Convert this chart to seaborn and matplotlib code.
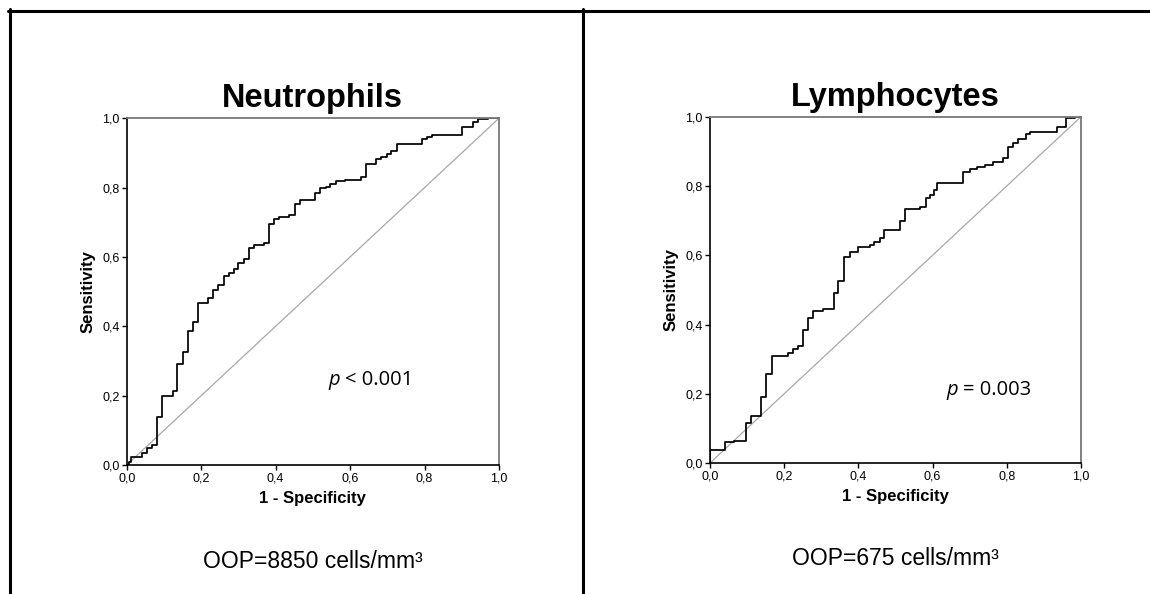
import numpy as np
import pandas as pd
import matplotlib
matplotlib.use("Agg")
import matplotlib.pyplot as plt
import seaborn as sns
from matplotlib.lines import Line2D
from matplotlib.ticker import FuncFormatter

# ROC points (1 - specificity, sensitivity)
neut_fpr = [0.0, 0.005, 0.012, 0.040, 0.054, 0.067, 0.081, 0.094, 0.123, 0.136, 0.151,
            0.164, 0.178, 0.191, 0.218, 0.231, 0.246, 0.260, 0.274, 0.287, 0.300,
            0.314, 0.328, 0.341, 0.370, 0.383, 0.396, 0.410, 0.437, 0.452, 0.465,
            0.507, 0.520, 0.534, 0.547, 0.561, 0.587, 0.628, 0.643, 0.670, 0.683,
            0.698, 0.711, 0.725, 0.794, 0.807, 0.821, 0.901, 0.930, 0.943, 0.970, 1.0]
neut_tpr = [0.0, 0.010, 0.024, 0.034, 0.048, 0.058, 0.138, 0.199, 0.212, 0.291, 0.327,
            0.385, 0.412, 0.468, 0.481, 0.505, 0.518, 0.545, 0.553, 0.564, 0.584,
            0.593, 0.625, 0.635, 0.639, 0.695, 0.709, 0.714, 0.721, 0.752, 0.764,
            0.784, 0.798, 0.801, 0.811, 0.819, 0.822, 0.832, 0.868, 0.882, 0.889,
            0.897, 0.907, 0.926, 0.939, 0.945, 0.953, 0.976, 0.990, 0.997, 1.0, 1.0]

lymph_fpr = [0.0, 0.0, 0.041, 0.066, 0.097, 0.111, 0.138, 0.151, 0.166, 0.196, 0.210,
             0.223, 0.237, 0.250, 0.264, 0.277, 0.304, 0.333, 0.346, 0.360, 0.376,
             0.400, 0.430, 0.443, 0.457, 0.470, 0.511, 0.526, 0.565, 0.583, 0.594,
             0.605, 0.612, 0.666, 0.682, 0.700, 0.720, 0.740, 0.763, 0.790, 0.803,
             0.817, 0.830, 0.853, 0.862, 0.934, 0.959, 0.983, 1.0]
lymph_tpr = [0.0, 0.037, 0.060, 0.064, 0.117, 0.137, 0.190, 0.258, 0.308, 0.308, 0.319,
             0.329, 0.339, 0.383, 0.418, 0.439, 0.444, 0.492, 0.527, 0.596, 0.608,
             0.625, 0.630, 0.637, 0.649, 0.673, 0.699, 0.733, 0.740, 0.764, 0.774,
             0.788, 0.810, 0.810, 0.841, 0.848, 0.855, 0.862, 0.870, 0.880, 0.913,
             0.923, 0.935, 0.950, 0.957, 0.969, 0.995, 1.0, 1.0]

titles = ["Neutrophils", "Lymphocytes"]
p_values = ["< 0.001", "= 0.003"]
p_pos = [(0.541, 0.245), (0.636, 0.211)]
oop_labels = ["OOP=8850 cells/mm\u00b3", "OOP=675 cells/mm\u00b3"]
ticks = [0.0, 0.2, 0.4, 0.6, 0.8, 1.0]

sns.set_style("white")
plt.rcParams["font.family"] = ["Liberation Sans", "DejaVu Sans"]
plt.rcParams["text.color"] = "black"
plt.rcParams["axes.labelcolor"] = "black"
plt.rcParams["xtick.color"] = "black"
plt.rcParams["ytick.color"] = "black"

fig = plt.figure(figsize=(11.5, 5.94), dpi=100)
ax1 = fig.add_axes([0.1102, 0.2172, 0.3237, 0.5837])
ax2 = fig.add_axes([0.6174, 0.2205, 0.3226, 0.5830])

curves = [(neut_fpr, neut_tpr), (lymph_fpr, lymph_tpr)]
comma = FuncFormatter(lambda v, _: f"{v:.1f}".replace(".", ","))

for i, ax in enumerate([ax1, ax2]):
    fpr, tpr = curves[i]
    df = pd.DataFrame({"fpr": fpr, "tpr": tpr})
    sns.lineplot(x=[0, 1], y=[0, 1], ax=ax, color="#a8a8a8", lw=0.9)
    sns.lineplot(data=df, x="fpr", y="tpr", ax=ax, sort=False, estimator=None,
                 drawstyle="steps-post", color="black", lw=1.25)
    ax.set_xlim(0, 1)
    ax.set_ylim(0, 1)
    ax.set_xticks(ticks)
    ax.set_yticks(ticks)
    ax.xaxis.set_major_formatter(comma)
    ax.yaxis.set_major_formatter(comma)
    ax.tick_params(direction="out", length=3.6, width=1, color="black",
                   labelsize=9, labelcolor="black", pad=1.5, bottom=True, left=True)
    for s in ["left", "bottom"]:
        ax.spines[s].set_color("black")
        ax.spines[s].set_linewidth(1.2)
    for s in ["top", "right"]:
        ax.spines[s].set_color("#777777")
        ax.spines[s].set_linewidth(1.3)
    ax.set_title(titles[i], fontsize=23.5, fontweight="bold", pad=8, color="black")
    ax.set_xlabel("1 - Specificity", fontsize=12, fontweight="bold", labelpad=5)
    ax.set_ylabel("Sensitivity", fontsize=12, fontweight="bold", labelpad=5)

    px, py = p_pos[i]
    ax.text(px, py, "p", fontsize=14.5, style="italic", family=["Open Sans", "DejaVu Sans"],
            ha="left", va="center")
    ax.text(px + 0.045, py, p_values[i], fontsize=14.5, family=["Open Sans", "DejaVu Sans"],
            ha="left", va="center")
    ax.text(0.5, -0.277, oop_labels[i], fontsize=16.5, ha="center", va="center",
            transform=ax.transAxes)

# panel frame
top = 1 - 10.5 / 594
fig.add_artist(Line2D([8 / 1150, 1], [top, top], lw=2.2, color="black",
                      transform=fig.transFigure))
fig.add_artist(Line2D([9.5 / 1150, 9.5 / 1150], [0, top + 0.002], lw=2.2, color="black",
                      transform=fig.transFigure))
fig.add_artist(Line2D([583 / 1150, 583 / 1150], [0, top + 0.002], lw=2.2, color="black",
                      transform=fig.transFigure))

fig.savefig("out.png", dpi=100)
